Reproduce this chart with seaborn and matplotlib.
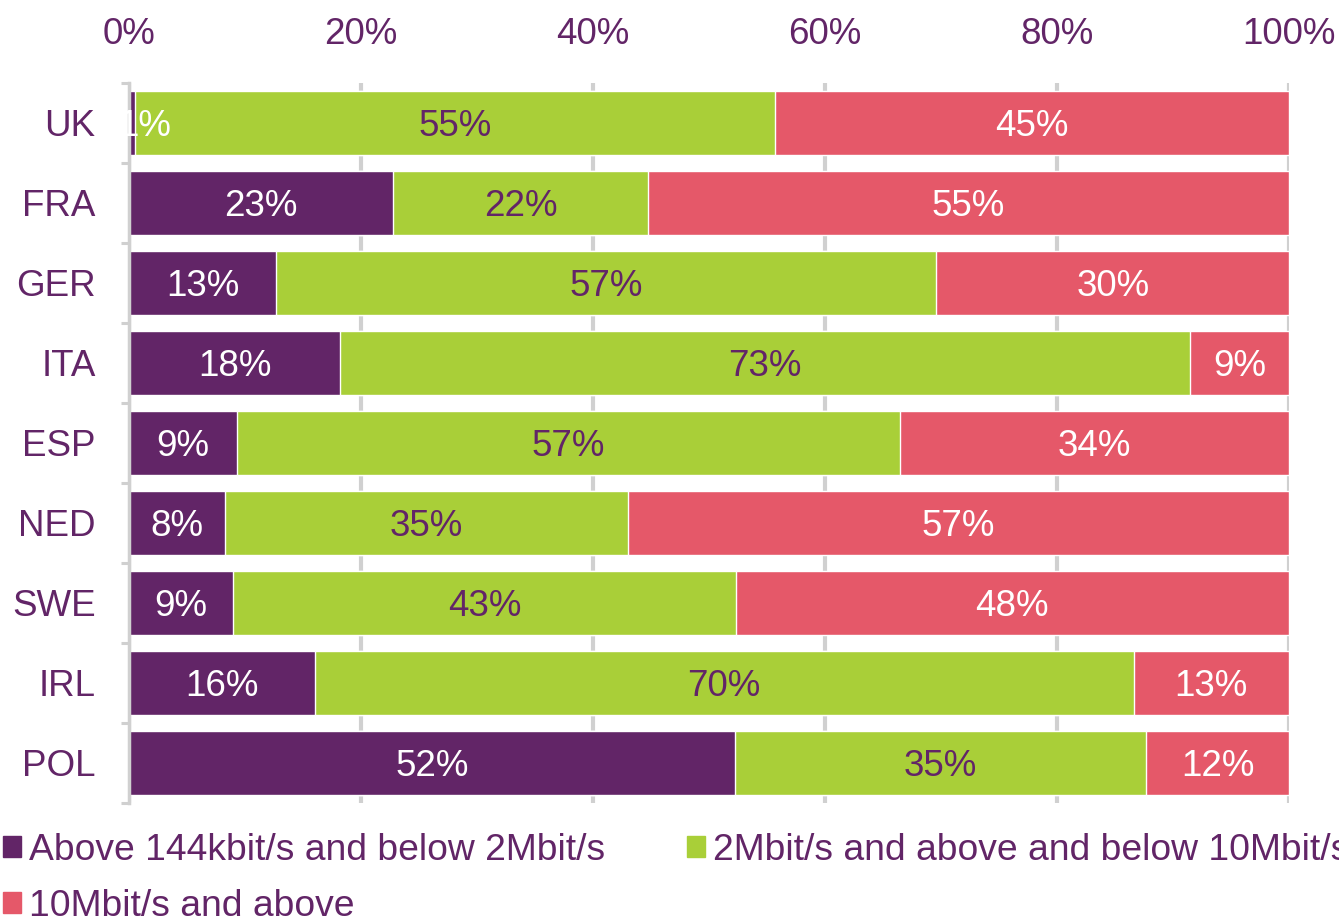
import matplotlib
matplotlib.use("Agg")
import matplotlib.pyplot as plt
from matplotlib.patches import Patch
import seaborn as sns
import pandas as pd
import numpy as np

sns.set_style("white")
plt.rcParams['font.family'] = ['Liberation Sans', 'DejaVu Sans']

# data (share of connections, %)
countries = ["UK", "FRA", "GER", "ITA", "ESP", "NED", "SWE", "IRL", "POL"]
low_speed = [0.5, 22.8, 12.7, 18.2, 9.3, 8.3, 9.0, 16.0, 52.2]
mid_speed = [55.2, 21.9, 56.9, 73.3, 57.2, 34.7, 43.3, 70.6, 35.5]
high_speed = [44.3, 55.3, 30.4, 8.5, 33.5, 57.0, 47.7, 13.4, 12.3]
low_labels = ["1%", "23%", "13%", "18%", "9%", "8%", "9%", "16%", "52%"]
mid_labels = ["55%", "22%", "57%", "73%", "57%", "35%", "43%", "70%", "35%"]
high_labels = ["45%", "55%", "30%", "9%", "34%", "57%", "48%", "13%", "12%"]
series_names = ["Above 144kbit/s and below 2Mbit/s",
                "2Mbit/s and above and below 10Mbit/s",
                "10Mbit/s and above"]

PURPLE = "#622567"
GREEN = "#A9CF38"
RED = "#E55869"
GRID = "#D0D0D0"

df = pd.DataFrame({"country": countries, "low": low_speed,
                   "mid": mid_speed, "high": high_speed})
df["c1"] = df["low"]
df["c2"] = df["low"] + df["mid"]
df["c3"] = df["c2"] + df["high"]

fig = plt.figure(figsize=(13.39, 9.18), dpi=100)
ax = fig.add_axes([0.0963, 0.1253, 0.8664, 0.7843])

# stacked bars: draw cumulative totals, largest first
for col, color in [("c3", RED), ("c2", GREEN), ("c1", PURPLE)]:
    sns.barplot(data=df, x=col, y="country", orient="h", color=color,
                saturation=1, width=0.8, errorbar=None, ax=ax, zorder=2)

ax.set_xlim(0, 100)
ax.set_ylim(8.5, -0.5)
ax.set_xlabel("")
ax.set_ylabel("")

# x axis on top
ax.xaxis.tick_top()
ax.set_xticks(np.arange(0, 101, 20))
ax.set_xticklabels([f"{v}%" for v in range(0, 101, 20)])
ax.tick_params(axis="x", length=0, pad=22, labelsize=26.5, labelcolor=PURPLE)
ax.xaxis.grid(True, color=GRID, linewidth=3, zorder=0)
ax.set_axisbelow(True)

# y axis
ax.tick_params(axis="y", which="major", left=True, length=0, pad=24,
               labelsize=26.5, labelcolor=PURPLE)
ax.set_yticks(np.arange(-0.5, 9, 1), minor=True)
ax.tick_params(axis="y", which="minor", left=True, length=6, width=2.2,
               color=GRID)

for s in ["top", "right", "bottom"]:
    ax.spines[s].set_visible(False)
ax.spines["left"].set_color(GRID)
ax.spines["left"].set_linewidth(2.5)

# segment labels
for i in range(len(countries)):
    left = 0
    for w, lab, tc in [(low_speed[i], low_labels[i], "white"),
                       (mid_speed[i], mid_labels[i], PURPLE),
                       (high_speed[i], high_labels[i], "white")]:
        xc = left + w / 2 if w > 3 else left + 1.4
        ax.text(xc, i, lab, ha="center", va="center_baseline", color=tc,
                fontsize=26.5, zorder=5)
        left += w

# legend (row-major order: two entries on first row)
handles = [Patch(color=PURPLE), Patch(color=RED), Patch(color=GREEN)]
labels = [series_names[0], series_names[2], series_names[1]]
fig.legend(handles, labels, loc="upper left", bbox_to_anchor=(0.002, 0.093),
           ncol=2, frameon=False, fontsize=26.8, labelcolor=PURPLE,
           handlelength=0.5, handleheight=0.5, handletextpad=0.2,
           columnspacing=2.2, borderaxespad=0, borderpad=0, labelspacing=0.57)

fig.savefig("out.png", dpi=100)
